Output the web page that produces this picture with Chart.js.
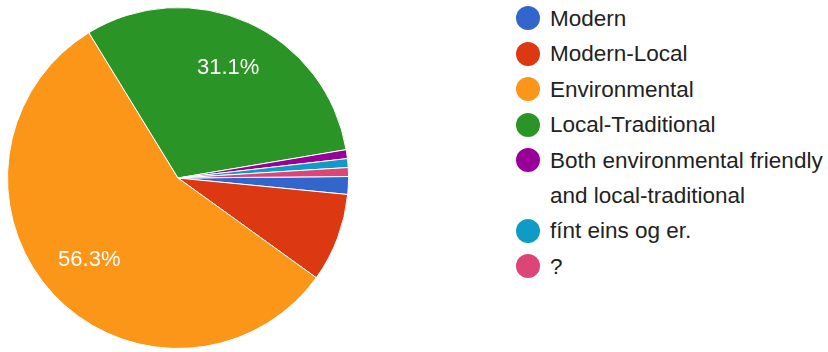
<!DOCTYPE html>
<html>
<head>
<meta charset="utf-8">
<script src="https://cdn.jsdelivr.net/npm/chart.js@4.4.1/dist/chart.umd.min.js"></script>
<style>
  body {
    margin: 0;
    width: 828px;
    height: 352px;
    background: #fff;
    font-family: "Liberation Sans", Arial, sans-serif;
    overflow: hidden;
  }
  .pie-wrap {
    position: absolute;
    left: 7px;
    top: 7px;
    width: 342px;
    height: 342px;
  }
  .legend {
    position: absolute;
    left: 516px;
    top: 0.5px;
    margin: 0;
    padding: 0;
    list-style: none;
  }
  .legend li {
    display: flex;
    align-items: flex-start;
    margin-bottom: 0.5px;
  }
  .legend .dot {
    width: 24px;
    height: 24px;
    border-radius: 50%;
    margin-top: 5.5px;
    margin-right: 10px;
    flex: none;
  }
  .legend .label {
    width: 278px;
    font-size: 22.5px;
    line-height: 35px;
    color: #222;
  }
</style>
</head>
<body>
<div class="pie-wrap"><canvas id="pieChart"></canvas></div>
<ul class="legend" id="legend"></ul>

<script>
// answers (n = 119)
const answerLabels = [
  "Modern",
  "Modern-Local",
  "Environmental",
  "Local-Traditional",
  "Both environmental friendly and local-traditional",
  "fínt eins og er.",
  "?",
];
const answerCounts = [2, 10, 67, 37, 1, 1, 1];
const sliceColors = [
  "#3366cc",
  "#dc3912",
  "#fb9619",
  "#2a9526",
  "#990099",
  "#0e9bc6",
  "#dd4477",
];

const total = answerCounts.reduce((sum, n) => sum + n, 0);

// percent text inside the big slices only
const sliceLabels = {
  id: "sliceLabels",
  afterDatasetsDraw: (chart) => {
    const ctx = chart.ctx;
    const arcs = chart.getDatasetMeta(0).data;
    ctx.save();
    ctx.fillStyle = "#ffffff";
    ctx.font = '22px "Liberation Sans", Arial, sans-serif';
    ctx.textAlign = "center";
    ctx.textBaseline = "middle";
    arcs.forEach((arc, i) => {
      const share = answerCounts[i] / total;
      if (share < 0.1) return;
      const p = arc.getProps(["x", "y", "startAngle", "endAngle", "outerRadius"], true);
      const mid = (p.startAngle + p.endAngle) / 2;
      const r = p.outerRadius * 0.71;
      ctx.fillText(
        `${(share * 100).toFixed(1)}%`,
        p.x + Math.cos(mid) * r,
        p.y + Math.sin(mid) * r
      );
    });
    ctx.restore();
  },
};

const chart = new Chart(document.getElementById("pieChart"), {
  type: "pie",
  data: {
    labels: answerLabels,
    datasets: [
      {
        data: answerCounts,
        backgroundColor: sliceColors,
        borderColor: "#ffffff",
        borderWidth: 1,
      },
    ],
  },
  options: {
    responsive: true,
    maintainAspectRatio: false,
    animation: false,
    devicePixelRatio: 1,
    rotation: 89.5,
    layout: { padding: 0 },
    plugins: {
      legend: { display: false },
      tooltip: { enabled: false },
    },
  },
  plugins: [sliceLabels],
});

// html legend, so the long answer can wrap onto two lines
const legendList = document.getElementById("legend");
answerLabels.forEach((label, i) => {
  legendList.innerHTML += `<li><span class="dot" style="background:${sliceColors[i]}"></span><span class="label">${label}</span></li>`;
});
</script>
</body>
</html>
